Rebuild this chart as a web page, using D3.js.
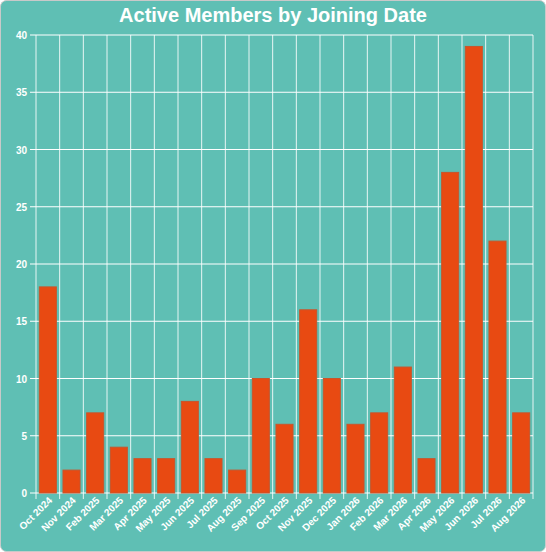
<!DOCTYPE html><html><head><script src="https://cdn.jsdelivr.net/npm/d3@7"></script>
<style>body{margin:0;background:#fff}svg{display:block}</style></head><body><svg id="c" width="546" height="552"></svg>
<script>
const categories=["Oct 2024","Nov 2024","Feb 2025","Mar 2025","Apr 2025","May 2025","Jun 2025","Jul 2025","Aug 2025","Sep 2025","Oct 2025","Nov 2025","Dec 2025","Jan 2026","Feb 2026","Mar 2026","Apr 2026","May 2026","Jun 2026","Jul 2026","Aug 2026"];
const values=[18,2,7,4,3,3,8,3,2,10,6,16,10,6,7,11,3,28,39,22,7];
const yTicks=[0,5,10,15,20,25,30,35,40];
const svg=d3.select("#c");
svg.append("rect").attr("x",0.5).attr("y",0.5).attr("width",545).attr("height",551).attr("rx",6).attr("fill","#5fbfb4").attr("stroke","#c9c9c9");
const m={l:36,r:533,t:35,b:493};
const x=d3.scaleBand().domain(categories).range([m.l,m.r]).paddingInner(0.3).paddingOuter(0.15);
const xe=d3.scaleBand().domain(categories).range([m.l,m.r]);
const y=d3.scaleLinear().domain([0,40]).range([m.b,m.t]);
const g=svg.append("g");
g.selectAll("line.h").data(yTicks).join("line").attr("x1",m.l-6).attr("x2",m.r).attr("y1",d=>y(d)).attr("y2",d=>y(d)).attr("stroke","#fff").attr("stroke-width",1);
const edges=categories.map(c=>xe(c)).concat([m.r]);
g.selectAll("line.v").data(edges).join("line").attr("x1",d=>d).attr("x2",d=>d).attr("y1",m.t).attr("y2",m.b+6).attr("stroke","rgba(255,255,255,0.85)").attr("stroke-width",1);
g.selectAll("text.y").data(yTicks).join("text").attr("x",m.l-9).attr("y",d=>y(d)+4).attr("text-anchor","end").attr("fill","#fff").attr("font-family","Arial,Liberation Sans").attr("font-size",10).attr("font-weight","bold").text(d=>d);
const bw=xe.bandwidth()*0.72;
g.selectAll("rect.b").data(values).join("rect").attr("x",(d,i)=>xe(categories[i])+(xe.bandwidth()-bw)/2).attr("width",bw).attr("y",d=>y(d)).attr("height",d=>y(0)-y(d)).attr("fill","#e84a12").attr("stroke","#c8552c").attr("stroke-width",1);
g.selectAll("text.x").data(categories).join("text").attr("transform",d=>`translate(${xe(d)+xe.bandwidth()/2+5},${m.b+8}) rotate(-45)`).attr("text-anchor","end").attr("fill","#fff").attr("font-family","Arial,Liberation Sans").attr("font-size",10).attr("font-weight","bold").text(d=>d);
svg.append("text").attr("x",273).attr("y",22).attr("text-anchor","middle").attr("fill","#fff").attr("font-family","Arial,Liberation Sans").attr("font-size",20).attr("font-weight","bold").text("Active Members by Joining Date");
</script></body></html>
